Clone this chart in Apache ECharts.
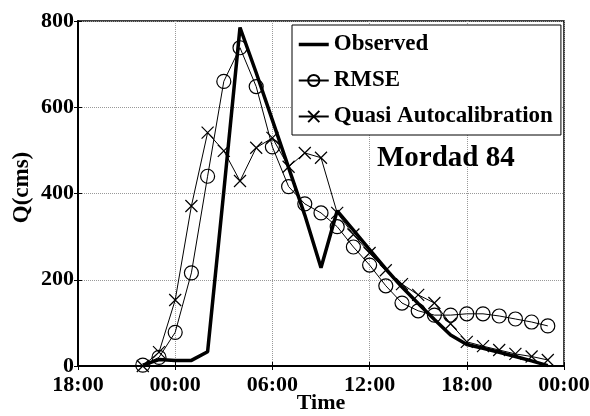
<!DOCTYPE html>
<html>
<head>
<meta charset="utf-8">
<script src="https://cdn.jsdelivr.net/npm/echarts@6/dist/echarts.min.js"></script>
<style>html,body{margin:0;padding:0;background:#fff;}#c{width:590px;height:416px;}</style>
</head>
<body>
<div id="c"></div>
<script>
// hours after 18:00 of the first day
var hours = [4,5,6,7,8,9,10,11,12,13,14,15,16,17,18,19,20,21,22,23,24,25,26,27,28,29];
var observed = [2,15,13,13,33,405,785,680,570,460,350,228,360,315,270,225,183,145,108,72,50,41,32,22,12,1];
var rmse = [2,20,78,216,440,660,738,648,508,416,376,355,323,276,234,186,146,128,118,118,121,121,116,109,102,93];
var quasi = [0,32,153,371,541,499,429,506,529,462,494,483,355,305,262,222,190,165,146,98,56,46,37,28,22,14];
var xTickLabels = ['18:00','00:00','06:00','12:00','18:00','00:00'];

function pairs(v){ return hours.map(function(h,i){ return [h, v[i]]; }); }

var font = 'Liberation Serif, Times New Roman, serif';
var chart = echarts.init(document.getElementById('c'), null, {renderer:'canvas'});
var xMark = 'path://M0,0L10,10M10,0L0,10';
chart.setOption({
  animation: false,
  backgroundColor: '#fff',
  title: {
    text: 'Mordad 84', left: 372, top: 139,
    textStyle: {fontFamily: font, fontWeight: 'bold', fontSize: 29, color: '#000'}
  },
  legend: {
    data: [
      {name: 'Observed', itemStyle: {color: 'rgba(0,0,0,0)', borderColor: 'rgba(0,0,0,0)', borderWidth: 0},
       lineStyle: {color: '#000', width: 3.5}},
      'RMSE', 'Quasi Autocalibration'],
    orient: 'vertical', left: 292, top: 25,
    backgroundColor: '#fff', borderColor: '#000', borderWidth: 1,
    padding: [8, 8, 7, 5],
    itemWidth: 30, itemHeight: 14, itemGap: 13,
    textStyle: {fontFamily: font, fontWeight: 'bold', fontSize: 23, color: '#000', lineHeight: 23}
  },
  grid: {left: 78, right: 26, top: 21, bottom: 50, show: true, borderColor: '#000', borderWidth: 1.5,
    backgroundColor: 'transparent', containLabel: false, outerBoundsMode: 'none'},
  xAxis: [{
    type: 'value', min: 0, max: 30, interval: 6,
    name: 'Time', nameLocation: 'middle', nameGap: 26, nameMoveOverlap: false,
    nameTextStyle: {fontFamily: font, fontWeight: 'bold', fontSize: 22, color: '#000', verticalAlign: 'top'},
    axisLine: {show: true, onZero: false, lineStyle: {color: '#000', width: 2}},
    axisTick: {show: true, inside: true, length: 4, lineStyle: {color: '#000'}},
    axisLabel: {margin: 8, fontFamily: font, fontWeight: 'bold', fontSize: 22, color: '#000',
      formatter: function(v){ return xTickLabels[Math.round(v/6)]; }},
    splitLine: {show: true, lineStyle: {color: '#999', type: 'dotted', width: 1}}
  },{
    type: 'value', min: 0, max: 30, interval: 6, position: 'top',
    axisLine: {show: true, lineStyle: {color: '#000', width: 2}},
    axisTick: {show: true, inside: true, length: 4, lineStyle: {color: '#000'}},
    axisLabel: {show: false}, splitLine: {show: false}
  }],
  yAxis: [{
    type: 'value', min: 0, max: 800, interval: 200,
    name: 'Q(cms)', nameLocation: 'middle', nameGap: 44, nameRotate: 90, nameMoveOverlap: false,
    nameTextStyle: {fontFamily: font, fontWeight: 'bold', fontSize: 23, color: '#000', padding: [0, 0, 0, 12]},
    axisLine: {show: true, lineStyle: {color: '#000', width: 2}},
    axisTick: {show: true, inside: true, length: 4, lineStyle: {color: '#000'}},
    axisLabel: {margin: 4, fontFamily: font, fontWeight: 'bold', fontSize: 22, color: '#000'},
    splitLine: {show: true, lineStyle: {color: '#999', type: 'dotted', width: 1}}
  },{
    type: 'value', min: 0, max: 800, interval: 200, position: 'right',
    axisLine: {show: true, lineStyle: {color: '#000', width: 1}},
    axisTick: {show: true, inside: true, length: 4, lineStyle: {color: '#000'}},
    axisLabel: {show: false}, splitLine: {show: false}
  }],
  series: [{
    name: 'RMSE', type: 'line', data: pairs(rmse), z: 3,
    symbol: 'circle', symbolSize: 14, showAllSymbol: true,
    lineStyle: {color: '#000', width: 1},
    itemStyle: {color: 'rgba(0,0,0,0)', borderColor: '#000', borderWidth: 1.2}
  },{
    name: 'Quasi Autocalibration', type: 'line', data: pairs(quasi), z: 3,
    symbol: xMark, symbolSize: 12, showAllSymbol: true,
    lineStyle: {color: '#000', width: 1},
    itemStyle: {color: '#000', borderColor: '#000', borderWidth: 1.2}
  },{
    name: 'Observed', type: 'line', data: pairs(observed), z: 4,
    symbol: 'none',
    lineStyle: {color: '#000', width: 3.5},
    itemStyle: {color: '#000'}
  }]
});
</script>
</body>
</html>
